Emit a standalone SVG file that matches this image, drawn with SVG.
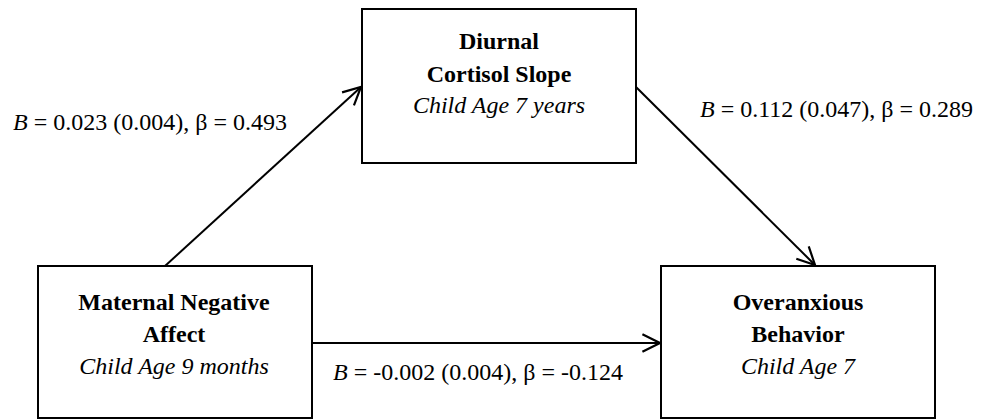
<svg xmlns="http://www.w3.org/2000/svg" width="987" height="420" viewBox="0 0 987 420">
<defs>
<style>
.box{fill:#fff;stroke:#000;stroke-width:2}
.t{font-family:"Liberation Serif","Times New Roman",serif;font-size:24px;fill:#000;text-anchor:middle}
.b{font-weight:bold}
.i{font-style:italic}
.lab{font-family:"Liberation Serif","Times New Roman",serif;font-size:24px;fill:#000}
.conn{fill:none;stroke:#000;stroke-width:2}
</style>
<marker id="arr" viewBox="0 0 20 20" refX="18" refY="10" markerWidth="22" markerHeight="22" markerUnits="userSpaceOnUse" orient="auto">
<path d="M2,2 L18,10 L2,18" fill="none" stroke="#000" stroke-width="2"/>
</marker>
</defs>
<rect width="987" height="420" fill="#fff"/>
<g id="connectors">
<line class="conn" x1="165" y1="266" x2="361" y2="87" marker-end="url(#arr)"/>
<line class="conn" x1="636" y1="87" x2="815" y2="265" marker-end="url(#arr)"/>
<line class="conn" x1="312" y1="343" x2="660" y2="343" marker-end="url(#arr)"/>
</g>
<g id="node-cortisol">
<rect class="box" x="362" y="9" width="274" height="154"/>
<text class="t b" x="499" y="49">Diurnal</text>
<text class="t b" x="499" y="82">Cortisol Slope</text>
<text class="t i" x="499" y="113">Child Age 7 years</text>
</g>
<g id="node-maternal">
<rect class="box" x="38" y="266" width="274" height="152"/>
<text class="t b" x="174" y="310">Maternal Negative</text>
<text class="t b" x="174" y="342">Affect</text>
<text class="t i" x="174" y="374">Child Age 9 months</text>
</g>
<g id="node-overanxious">
<rect class="box" x="661" y="266" width="274" height="152"/>
<text class="t b" x="798" y="310">Overanxious</text>
<text class="t b" x="798" y="342">Behavior</text>
<text class="t i" x="798" y="374">Child Age 7</text>
</g>
<g id="labels">
<text class="lab" x="13" y="130"><tspan font-style="italic">B</tspan> = 0.023 (0.004), β = 0.493</text>
<text class="lab" x="700" y="117"><tspan font-style="italic">B</tspan> = 0.112 (0.047), β = 0.289</text>
<text class="lab" x="333" y="380"><tspan font-style="italic">B</tspan> = -0.002 (0.004), β = -0.124</text>
</g>
</svg>
